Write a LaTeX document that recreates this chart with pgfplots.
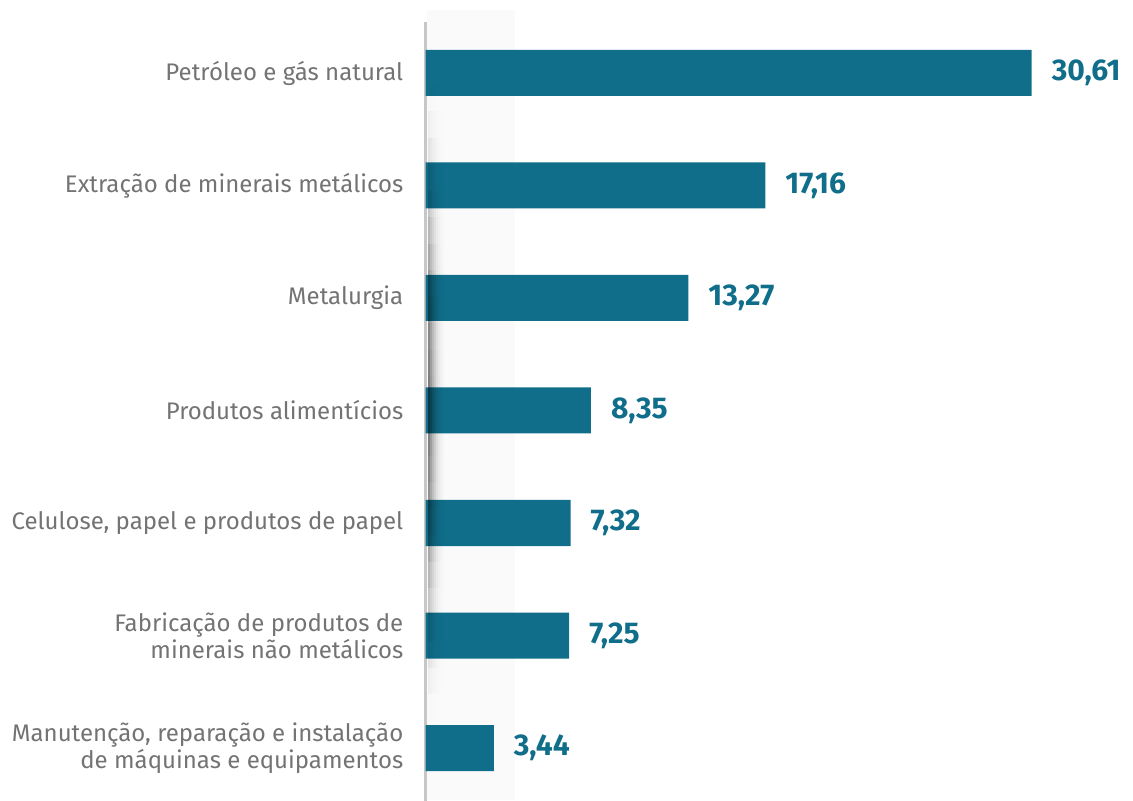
\documentclass[border=0pt]{standalone}
\usepackage{pgfplots}
\pgfplotsset{compat=1.18}
\usepackage{fontspec}
\setmainfont{Fira Sans}
\definecolor{barc}{RGB}{16,110,138}
\definecolor{labc}{RGB}{115,115,115}
\begin{document}
\begin{tikzpicture}[x=1pt,y=1pt]
\useasboundingbox (0,0) rectangle (566.5,400.5);
\fill[black!2] (213.5,0.5) rectangle (257.5,395.5);
\begin{axis}[at={(215,0)}, anchor=south west, scale only axis,
  width=354pt, height=389.5pt,
  xmin=0, xmax=35.76, ymin=-0.453, ymax=6.471, y dir=reverse,
  xbar, bar width=23pt, bar shift=0pt,
  axis x line=none, axis y line*=left,
  y axis line style={-, draw=black!22, line width=1.2pt},
  major tick length=0pt, ytick style={draw=none},
  ytick={0,...,6},
  yticklabels={Petróleo e gás natural, Extração de minerais metálicos, Metalurgia, Produtos alimentícios, {Celulose, papel e produtos de papel}, {Fabricação de produtos de\\minerais não metálicos}, {Manutenção, reparação e instalação\\de máquinas e equipamentos}},
  yticklabel style={align=right, font=\fontsize{12}{13.5}\selectfont, text=labc, inner sep=0pt, xshift=-11pt},
  nodes near coords={\pgfmathprintnumber[fixed, fixed zerofill, precision=2, use comma, assume math mode=true]{\pgfplotspointmeta}},
  point meta=x,
  nodes near coords style={anchor=west, xshift=6.5pt, font=\fontsize{15}{17}\selectfont\bfseries, text=barc},
  clip=false,
]
\addplot[fill=barc, draw=none] coordinates {(30.61,0) (17.16,1) (13.27,2) (8.35,3) (7.32,4) (7.25,5) (3.44,6)};
\end{axis}
\foreach \i/\o in {0/0.5,1/0.38,2/0.28,3/0.19,4/0.12,5/0.07,6/0.04,7/0.02}{
  \foreach \j in {0,...,23}{
    \pgfmathsetmacro{\op}{\o*sin(180*(\j+0.5)/24)^1.5}
    \fill[black, fill opacity=\op] (214+\i,40+13.25*\j) rectangle (215+\i,40+13.25*\j+13.25);
  }
}
\end{tikzpicture}
\end{document}
